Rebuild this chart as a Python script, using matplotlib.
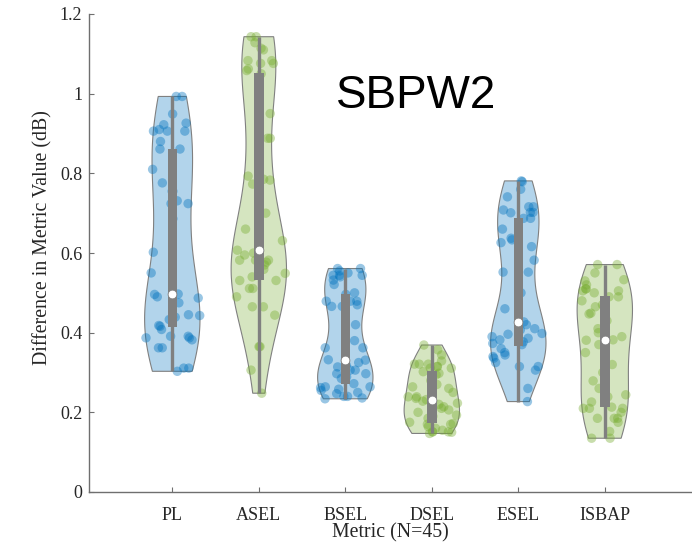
import numpy as np
import matplotlib
matplotlib.use("Agg")
import matplotlib.pyplot as plt

# ---- data -------------------------------------------------------------
metrics = ["PL", "ASEL", "BSEL", "DSEL", "ESEL", "ISBAP"]
n_obs = 45

pl = [0.303, 0.311, 0.311, 0.362, 0.362, 0.382, 0.387, 0.387, 0.391, 0.391,
      0.408, 0.416, 0.418, 0.433, 0.439, 0.439, 0.443, 0.445, 0.475, 0.487,
      0.490, 0.496, 0.497, 0.550, 0.602, 0.686, 0.724, 0.724, 0.731, 0.755,
      0.755, 0.776, 0.810, 0.861, 0.861, 0.880, 0.906, 0.906, 0.906, 0.910,
      0.922, 0.926, 0.949, 0.993, 0.993]

asel = [0.248, 0.306, 0.365, 0.365, 0.444, 0.465, 0.465, 0.490, 0.511, 0.511,
        0.531, 0.531, 0.540, 0.549, 0.559, 0.570, 0.577, 0.582, 0.582, 0.582,
        0.595, 0.600, 0.607, 0.631, 0.660, 0.700, 0.773, 0.783, 0.785, 0.793,
        0.888, 0.888, 0.950, 1.050, 1.058, 1.062, 1.076, 1.076, 1.083, 1.083,
        1.110, 1.114, 1.128, 1.143, 1.143]

bsel = [0.234, 0.236, 0.240, 0.240, 0.247, 0.250, 0.255, 0.258, 0.262, 0.264,
        0.264, 0.272, 0.285, 0.289, 0.297, 0.297, 0.306, 0.306, 0.314, 0.318,
        0.325, 0.331, 0.332, 0.362, 0.362, 0.380, 0.420, 0.466, 0.466, 0.470,
        0.479, 0.479, 0.479, 0.496, 0.500, 0.521, 0.532, 0.540, 0.544, 0.544,
        0.544, 0.550, 0.555, 0.561, 0.561]

dsel = [0.147, 0.150, 0.151, 0.151, 0.151, 0.155, 0.160, 0.164, 0.170, 0.170,
        0.172, 0.175, 0.185, 0.190, 0.193, 0.200, 0.206, 0.210, 0.214, 0.220,
        0.223, 0.228, 0.232, 0.235, 0.239, 0.239, 0.250, 0.260, 0.264, 0.270,
        0.280, 0.294, 0.298, 0.302, 0.311, 0.311, 0.315, 0.315, 0.321, 0.321,
        0.321, 0.329, 0.344, 0.357, 0.369]

esel = [0.227, 0.260, 0.306, 0.315, 0.315, 0.325, 0.336, 0.340, 0.344, 0.350,
        0.360, 0.370, 0.373, 0.377, 0.382, 0.386, 0.390, 0.396, 0.398, 0.407,
        0.410, 0.420, 0.427, 0.460, 0.500, 0.552, 0.552, 0.582, 0.616, 0.626,
        0.633, 0.637, 0.660, 0.687, 0.687, 0.701, 0.702, 0.702, 0.708, 0.716,
        0.716, 0.741, 0.760, 0.779, 0.781]

isbap = [0.135, 0.135, 0.152, 0.175, 0.185, 0.185, 0.185, 0.200, 0.210, 0.210,
         0.210, 0.213, 0.226, 0.239, 0.244, 0.260, 0.279, 0.300, 0.320, 0.350,
         0.370, 0.381, 0.382, 0.390, 0.400, 0.410, 0.430, 0.447, 0.449, 0.465,
         0.470, 0.480, 0.490, 0.490, 0.500, 0.505, 0.505, 0.510, 0.510, 0.520,
         0.530, 0.533, 0.550, 0.571, 0.571]

series = [pl, asel, bsel, dsel, esel, isbap]
ytick_values = [0, 0.2, 0.4, 0.6, 0.8, 1.0, 1.2]
ytick_labels = ["0", "0.2", "0.4", "0.6", "0.8", "1", "1.2"]
title_text = "SBPW2"
xlabel_text = f"Metric (N={n_obs})"
ylabel_text = "Difference in Metric Value (dB)"

# ---- style ------------------------------------------------------------
BLUE = (0.0, 0.447, 0.741)
GREEN = (0.466, 0.674, 0.188)
palette = [BLUE, GREEN]
GREY = (0.5, 0.5, 0.5)
AXIS_COL = "#6f6f6f"
TEXT_COL = "#262626"
VIOLIN_WIDTH = 0.32
BOX_HALF = 0.055

plt.rcParams["font.family"] = ["Liberation Serif", "DejaVu Serif"]


def quantile_ml(values, p):
    """Quantile with the (n*p + 0.5) position rule."""
    v = np.sort(np.asarray(values, float))
    n = len(v)
    pos = n * p + 0.5
    if pos <= 1:
        return v[0]
    if pos >= n:
        return v[-1]
    lo = int(np.floor(pos))
    frac = pos - lo
    return v[lo - 1] + frac * (v[lo] - v[lo - 1])


def kde(values, grid):
    v = np.asarray(values, float)
    n = len(v)
    sig = np.median(np.abs(v - np.median(v))) / 0.6745
    bw = sig * (4.0 / (3.0 * n)) ** 0.2
    z = (grid[:, None] - v[None, :]) / bw
    return np.exp(-0.5 * z ** 2).sum(axis=1) / (n * bw * np.sqrt(2 * np.pi))


fig = plt.figure(figsize=(6.92, 5.47), dpi=100)
ax = fig.add_axes([88.6 / 692, 55 / 547, (691.5 - 88.6) / 692, 478 / 547])

jitter_rng = np.random.default_rng(7)

for i, vals in enumerate(series):
    pos = i + 1
    col = palette[i % 2]
    v = np.asarray(vals, float)
    grid = np.linspace(v.min(), v.max(), 100)
    dens = kde(v, grid)
    scale = VIOLIN_WIDTH / dens.max()
    half = dens * scale

    # violin body
    xs = np.concatenate([pos + half, (pos - half)[::-1]])
    ys = np.concatenate([grid, grid[::-1]])
    ax.fill(xs, ys, facecolor=(*col, 0.3), edgecolor=GREY, linewidth=0.8,
            zorder=1)

    # jittered observations
    spread = np.interp(v, grid, half)
    jit = jitter_rng.uniform(-1, 1, len(v))
    ax.scatter(pos + jit * spread, v, s=46, color=col, alpha=0.4,
               edgecolors="none", zorder=2)

    # whisker, box and median
    q1, med, q3 = (quantile_ml(v, p) for p in (0.25, 0.5, 0.75))
    iqr = q3 - q1
    lo_w = max(v.min(), q1 - 1.5 * iqr)
    hi_w = min(v.max(), q3 + 1.5 * iqr)
    ax.plot([pos, pos], [lo_w, hi_w], color=GREY, linewidth=2.4,
            solid_capstyle="butt", zorder=3)
    ax.fill([pos - BOX_HALF, pos + BOX_HALF, pos + BOX_HALF, pos - BOX_HALF],
            [q1, q1, q3, q3], facecolor=GREY, edgecolor="none", zorder=4)
    ax.scatter([pos], [med], s=40, facecolor="white", edgecolors=GREY,
               linewidths=0.6, zorder=5)

# ---- axes -------------------------------------------------------------
ax.set_xlim(1 - (172.3 - 88.6) / 86.5, 1 + (691.5 - 172.3) / 86.5)
ax.set_ylim(0, 1.2)
ax.set_xticks(range(1, len(metrics) + 1))
ax.set_xticklabels(metrics)
ax.set_yticks(ytick_values)
ax.set_yticklabels(ytick_labels)

for side in ("top", "right"):
    ax.spines[side].set_visible(False)
for side in ("left", "bottom"):
    ax.spines[side].set_color(AXIS_COL)
    ax.spines[side].set_linewidth(1.0)

ax.tick_params(axis="both", direction="in", length=3.5, width=0.8,
               color=AXIS_COL, labelcolor=TEXT_COL, labelsize=13)
ax.tick_params(axis="x", pad=10.5)
ax.tick_params(axis="y", pad=4.5)

ax.set_xlabel(xlabel_text, fontsize=14.3, color=TEXT_COL, va="center")
ax.xaxis.set_label_coords(0.5, (492 - 533) / 478)
ax.set_ylabel(ylabel_text, fontsize=14.3, color=TEXT_COL, va="center")
ax.yaxis.set_label_coords((42.6 - 88.6) / 603, (492 - 238) / 478)

ax.text(1 + (416 - 172.3) / 86.5, (492 - 108.3) / 398.3, title_text,
        fontsize=33, family=["Liberation Sans", "DejaVu Sans"],
        ha="center", va="baseline", color="black")

fig.savefig("out.png", dpi=100)
